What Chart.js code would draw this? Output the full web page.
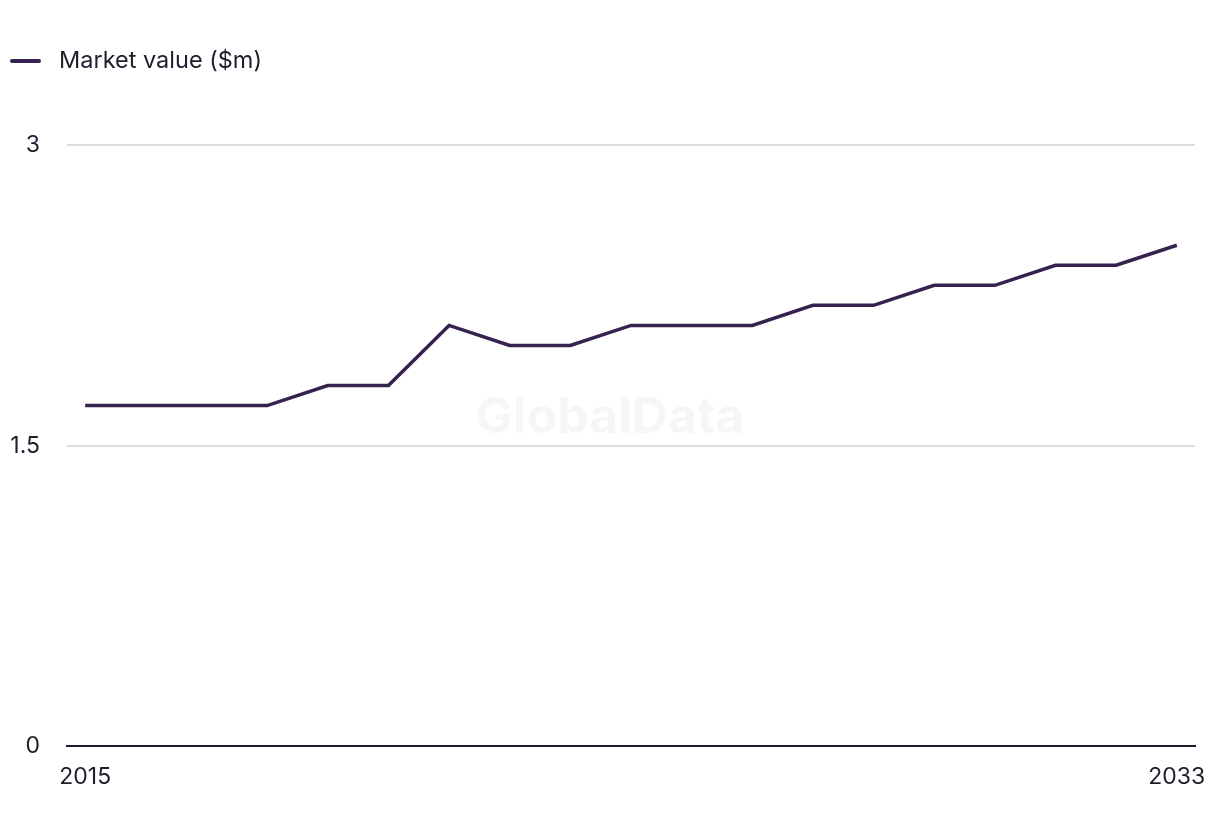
<!DOCTYPE html>
<html>
<head>
<meta charset="utf-8">
<script src="https://cdn.jsdelivr.net/npm/chart.js@4/dist/chart.umd.min.js"></script>
<style>
  html, body { margin: 0; padding: 0; background: #fff; }
  #wrap { position: relative; width: 1220px; height: 836px; }
</style>
</head>
<body>
<div id="wrap"><canvas id="marketChart"></canvas></div>
<script>
// data
const years = [2015, 2016, 2017, 2018, 2019, 2020, 2021, 2022, 2023, 2024,
               2025, 2026, 2027, 2028, 2029, 2030, 2031, 2032, 2033];
const marketValue = [1.7, 1.7, 1.7, 1.7, 1.8, 1.8, 2.1, 2.0, 2.0, 2.1,
                     2.1, 2.1, 2.2, 2.2, 2.3, 2.3, 2.4, 2.4, 2.5];
const xTickYears = [2015, 2033];
const yTicks = [0, 1.5, 3];

const seriesLabel = 'Market value ($m)';
const lineColor = '#35224f';
const textColor = '#1e1e2d';
const fontFamily = 'Inter, "Liberation Sans", Arial, sans-serif';

// simple legend drawn on the canvas (line swatch + label)
const legendPlugin = {
  id: 'topLegend',
  afterDraw(chart) {
    const ctx = chart.ctx;
    ctx.save();
    ctx.strokeStyle = lineColor;
    ctx.lineWidth = 4;
    ctx.lineCap = 'round';
    ctx.beginPath();
    ctx.moveTo(12, 61);
    ctx.lineTo(39, 61);
    ctx.stroke();
    ctx.fillStyle = textColor;
    ctx.font = '23.5px ' + fontFamily;
    ctx.textBaseline = 'middle';
    ctx.fillText(chart.data.datasets[0].label, 59, 61);
    ctx.restore();
  }
};

// faint watermark behind the line
const watermarkPlugin = {
  id: 'watermark',
  beforeDatasetsDraw(chart) {
    const ctx = chart.ctx;
    ctx.save();
    ctx.fillStyle = 'rgba(0,0,0,0.035)';
    ctx.font = 'bold 50px ' + fontFamily;
    ctx.textAlign = 'center';
    ctx.textBaseline = 'middle';
    ctx.fillText('GlobalData', 610, 418);
    ctx.restore();
  }
};

const ctx = document.getElementById('marketChart').getContext('2d');
const marketChart = new Chart(ctx, {
  type: 'line',
  data: {
    datasets: [{
      label: seriesLabel,
      data: years.map((y, i) => ({ x: y, y: marketValue[i] })),
      borderColor: lineColor,
      backgroundColor: lineColor,
      borderWidth: 3.5,
      pointRadius: 0,
      tension: 0,
      fill: false
    }]
  },
  options: {
    responsive: true,
    maintainAspectRatio: false,
    animation: false,
    layout: { padding: { top: 145, right: 25, bottom: 36, left: 0 } },
    plugins: {
      legend: { display: false },
      tooltip: { enabled: false }
    },
    scales: {
      x: {
        type: 'linear',
        min: 2014.7,
        max: 2033.3,
        afterBuildTicks: axis => { axis.ticks = xTickYears.map(v => ({ value: v })); },
        grid: { display: false },
        border: { display: true, color: '#1c1c2b', width: 2 },
        ticks: {
          color: textColor,
          font: { family: fontFamily, size: 23 },
          padding: 9,
          maxRotation: 0,
          callback: v => String(v)
        }
      },
      y: {
        min: 0,
        max: 3,
        afterBuildTicks: axis => { axis.ticks = yTicks.map(v => ({ value: v })); },
        afterFit: axis => { axis.width = 67; },
        grid: { color: '#dcdcdc', lineWidth: 2, drawTicks: false },
        border: { display: false },
        ticks: {
          color: textColor,
          font: { family: fontFamily, size: 23 },
          padding: 27,
          callback: v => String(v)
        }
      }
    }
  },
  plugins: [legendPlugin, watermarkPlugin]
});
</script>
</body>
</html>
